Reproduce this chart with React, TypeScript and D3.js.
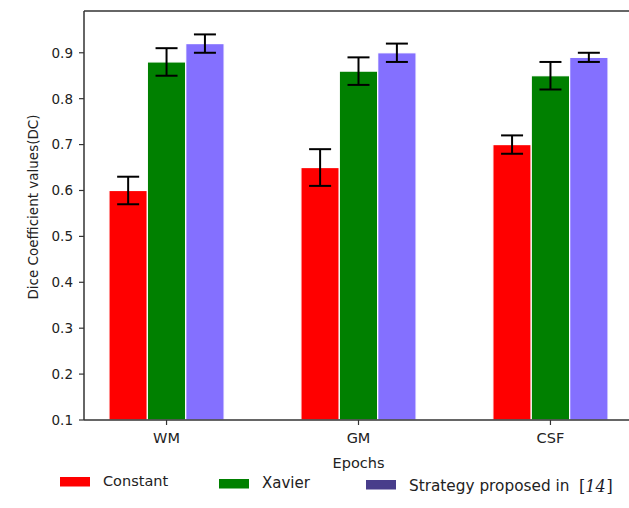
import React, { useEffect, useRef } from "react";
import * as d3 from "d3";

const categories = ["WM", "GM", "CSF"];
const seriesNames = ["Constant", "Xavier", "Strategy proposed in"];
const constantVals = [0.6, 0.65, 0.7];
const constantErr = [0.03, 0.04, 0.02];
const xavierVals = [0.88, 0.86, 0.85];
const xavierErr = [0.03, 0.03, 0.03];
const strategyVals = [0.92, 0.9, 0.89];
const strategyErr = [0.02, 0.02, 0.01];
const yTicks = [0.1, 0.2, 0.3, 0.4, 0.5, 0.6, 0.7, 0.8, 0.9];

const barColors = ["#ff0000", "#008000", "#8470ff"];
const legendColors = ["#ff0000", "#008000", "#483d8b"];

function App() {
	const svgRef = useRef<SVGSVGElement>(null);

	useEffect(() => {
		const svg = d3.select(svgRef.current);
		svg.selectAll("*").remove();

		const width = 629;
		const height = 508;
		const left = 84;
		const top = 11;
		const bottom = 420;
		const font = "DejaVu Sans, sans-serif";

		const x = d3.scaleLinear().domain([-0.43, 2.43]).range([left, 633]);
		const y = d3.scaleLinear().domain([0.1, 0.991]).range([bottom, top]);
		const barW = 0.2;

		const series = [
			{ vals: constantVals, err: constantErr },
			{ vals: xavierVals, err: xavierErr },
			{ vals: strategyVals, err: strategyErr },
		];

		svg.attr("width", width).attr("height", height);
		svg.append("rect").attr("width", width).attr("height", height).attr("fill", "#fff");

		// bars
		series.forEach((s, si) => {
			const off = (si - 1) * barW;
			const g = svg.append("g");
			g.selectAll("rect")
				.data(s.vals)
				.enter()
				.append("rect")
				.attr("x", (d, i) => x(i + off - barW / 2))
				.attr("width", x(barW) - x(0))
				.attr("y", (d) => y(d))
				.attr("height", (d) => y(0.1) - y(d))
				.attr("fill", barColors[si])
				.attr("stroke", "#ffffff")
				.attr("stroke-width", 1.2);
		});

		// error bars
		series.forEach((s, si) => {
			const off = (si - 1) * barW;
			const g = svg.append("g").attr("stroke", "#000").attr("stroke-width", 2);
			s.vals.forEach((v, i) => {
				const cx = x(i + off);
				const y1 = y(v + s.err[i]);
				const y0 = y(v - s.err[i]);
				g.append("line").attr("x1", cx).attr("x2", cx).attr("y1", y1).attr("y2", y0);
				g.append("line").attr("x1", cx - 11).attr("x2", cx + 11).attr("y1", y1).attr("y2", y1);
				g.append("line").attr("x1", cx - 11).attr("x2", cx + 11).attr("y1", y0).attr("y2", y0);
			});
		});

		// frame
		const frame = svg.append("g").attr("stroke", "#333").attr("stroke-width", 1.5).attr("fill", "none");
		frame.append("line").attr("x1", left).attr("x2", left).attr("y1", top).attr("y2", bottom);
		frame.append("line").attr("x1", left).attr("x2", width).attr("y1", top).attr("y2", top);
		frame.append("line").attr("x1", left).attr("x2", width).attr("y1", bottom).attr("y2", bottom);

		// y axis
		const yAxis = svg.append("g");
		yTicks.forEach((t) => {
			yAxis.append("line")
				.attr("x1", left - 5).attr("x2", left)
				.attr("y1", y(t)).attr("y2", y(t))
				.attr("stroke", "#333").attr("stroke-width", 1.2);
			yAxis.append("text")
				.attr("x", left - 11).attr("y", y(t))
				.attr("dy", "0.36em")
				.attr("text-anchor", "end")
				.style("font-family", font)
				.style("font-size", "13.5px")
				.attr("fill", "#222")
				.text(t.toFixed(1));
		});

		// x axis
		const xAxis = svg.append("g");
		categories.forEach((c, i) => {
			xAxis.append("line")
				.attr("x1", x(i)).attr("x2", x(i))
				.attr("y1", bottom).attr("y2", bottom + 5)
				.attr("stroke", "#333").attr("stroke-width", 1.2);
			xAxis.append("text")
				.attr("x", x(i)).attr("y", bottom + 23)
				.attr("text-anchor", "middle")
				.style("font-family", font)
				.style("font-size", "14.5px")
				.attr("fill", "#222")
				.text(c);
		});

		svg.append("text")
			.attr("x", x(1)).attr("y", 468)
			.attr("text-anchor", "middle")
			.style("font-family", font)
			.style("font-size", "14.5px")
			.attr("fill", "#222")
			.text("Epochs");

		svg.append("text")
			.attr("transform", "translate(38,207) rotate(-90)")
			.attr("text-anchor", "middle")
			.style("font-family", font)
			.style("font-size", "13.5px")
			.attr("fill", "#222")
			.text("Dice Coefficient values(DC)");

		// legend
		const legendPos = [
			{ sx: 60, sy: 477, tx: 103, ty: 486, fs: 14.5 },
			{ sx: 219, sy: 479, tx: 262, ty: 488, fs: 15 },
			{ sx: 366, sy: 480, tx: 409, ty: 491, fs: 15.3 },
		];
		seriesNames.forEach((n, i) => {
			const p = legendPos[i];
			svg.append("rect")
				.attr("x", p.sx).attr("y", p.sy)
				.attr("width", 30).attr("height", 9.5)
				.attr("fill", legendColors[i]);
			svg.append("text")
				.attr("x", p.tx).attr("y", p.ty)
				.style("font-family", font)
				.style("font-size", `${p.fs}px`)
				.attr("fill", "#222")
				.text(n);
		});
		const ref = svg.append("text")
			.attr("x", 579).attr("y", 492)
			.style("font-size", "16px")
			.attr("fill", "#1a1a2a");
		ref.append("tspan").style("font-family", "DejaVu Serif, serif").text("[");
		ref.append("tspan")
			.style("font-family", "DejaVu Serif, serif")
			.style("font-style", "italic")
			.text("14");
		ref.append("tspan").style("font-family", "DejaVu Serif, serif").attr("dx", 1).text("]");
	}, []);

	return (
		<div style={{ position: "absolute", left: 0, top: 0 }}>
			<svg ref={svgRef} style={{ display: "block" }}></svg>
		</div>
	);
}

export default App;
